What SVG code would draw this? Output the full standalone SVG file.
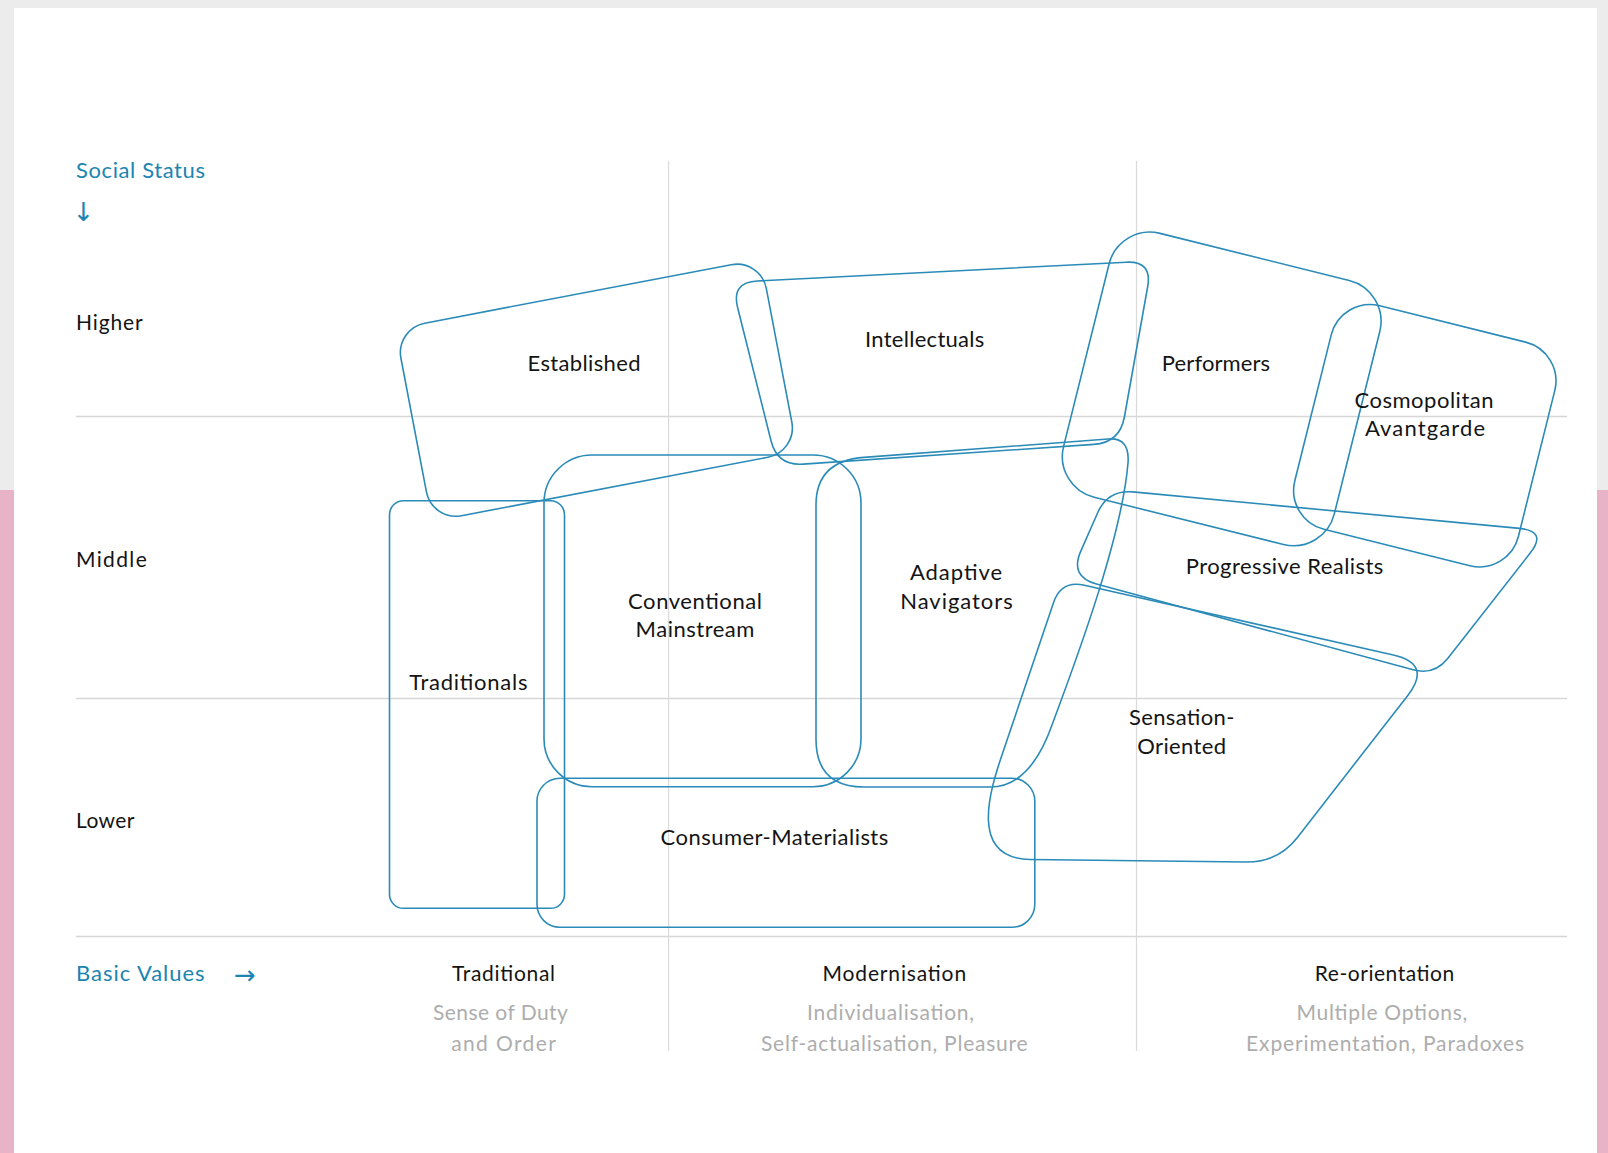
<svg xmlns="http://www.w3.org/2000/svg" width="1608" height="1153" viewBox="0 0 1608 1153">
<style>
.grid{stroke:#d7d7d7;stroke-width:1.6;fill:none}
.vgrid{stroke:#dadada;stroke-width:1.2;fill:none}
.seg{fill:none;stroke:#2b8bb8;stroke-width:1.6}
.lbl{font-family:Lato,'Liberation Sans',sans-serif;font-size:22px;fill:#141414;text-anchor:middle}
.axis{font-family:Lato,'Liberation Sans',sans-serif;font-size:21px;fill:#141414}
.axisb{font-family:Lato,'Liberation Sans',sans-serif;font-size:22px;fill:#1b84b1}
.arrow{font-family:'DejaVu Sans',sans-serif;font-size:26px;fill:#1b84b1;text-anchor:middle}
.val{font-family:Lato,'Liberation Sans',sans-serif;font-size:21px;fill:#141414;text-anchor:middle}
.sub{font-family:Lato,'Liberation Sans',sans-serif;font-size:21px;fill:#adadad;text-anchor:middle}
</style>
<rect width="1608" height="1153" fill="#ececec"/>
<rect x="0" y="490" width="14" height="663" fill="#e8b3c6"/>
<rect x="1597" y="490" width="11" height="663" fill="#e8b3c6"/>
<rect x="14" y="8" width="1583" height="1145" fill="#ffffff"/>

<g id="grid">
<line class="grid" x1="76" y1="416.5" x2="1567" y2="416.5"/>
<line class="grid" x1="76" y1="698.5" x2="1567" y2="698.5"/>
<line class="grid" x1="76" y1="936.5" x2="1567" y2="936.5"/>
<line class="vgrid" x1="668.6" y1="161" x2="668.6" y2="1051"/>
<line class="vgrid" x1="1136.5" y1="161" x2="1136.5" y2="1051"/>
</g>

<g id="axes">
<text class="axisb" x="76" y="178" textLength="129">Social Status</text>
<text class="arrow" x="83.5" y="221">↓</text>
<text class="axis" x="76" y="330" textLength="66.7">Higher</text>
<text class="axis" x="76" y="567" textLength="70.8">Middle</text>
<text class="axis" x="76" y="827.5" textLength="58.5">Lower</text>
<text class="axisb" x="76" y="981" textLength="128.5">Basic Values</text>
<text class="arrow" x="245" y="984">→</text>
<text class="val" x="503.5" y="981" textLength="103">Traditional</text>
<text class="val" x="894.3" y="981" textLength="143.6">Modernisation</text>
<text class="val" x="1384.5" y="981" textLength="139.5">Re-orientation</text>
<text class="sub" x="500.4" y="1020" textLength="135">Sense of Duty</text>
<text class="sub" x="503.5" y="1050.5" textLength="104.6">and Order</text>
<text class="sub" x="890.6" y="1020" textLength="167">Individualisation,</text>
<text class="sub" x="894.3" y="1050.5" textLength="266.6">Self-actualisation, Pleasure</text>
<text class="sub" x="1381.9" y="1020" textLength="171">Multiple Options,</text>
<text class="sub" x="1385" y="1050.5" textLength="278">Experimentation, Paradoxes</text>
</g>

<g id="connectors"></g>

<g id="established">
<rect class="seg" x="410.4" y="292.2" width="372" height="196" rx="30" transform="rotate(-10.8 596.4 390.3)"/>
<text class="lbl" x="584" y="371" textLength="113">Established</text>
</g>
<g id="intellectuals">
<path class="seg" d="M757.3,281 L1126.3,262.2 Q1152.3,260.9 1147.7,286.5 L1124.4,417 Q1119.8,442.6 1093.9,444.4 L803.2,464.1 Q777.3,465.9 771,440.7 L737.6,307.5 Q731.3,282.3 757.3,281 Z"/>
<text class="lbl" x="924.7" y="347" textLength="119.3">Intellectuals</text>
</g>
<g id="performers">
<rect class="seg" x="1082.2" y="252.9" width="279" height="272" rx="42" transform="rotate(14 1221.7 388.9)"/>
<text class="lbl" x="1216" y="371" textLength="108.3">Performers</text>
</g>
<g id="cosmopolitan-avantgarde">
<rect class="seg" x="1309.6" y="320.5" width="230.4" height="230.4" rx="40" transform="rotate(14 1424.8 435.7)"/>
<text class="lbl" x="1424" y="408" textLength="139">Cosmopolitan</text>
<text class="lbl" x="1425" y="436" textLength="120">Avantgarde</text>
</g>
<g id="progressive-realists">
<path class="seg" d="M1132.8,491.9 L1519.6,528.4 Q1547.5,531 1530.2,553.1 L1447.9,658.3 Q1434.3,675.6 1413.1,669.8 L1096.5,584 Q1069.5,576.7 1080.8,551.1 L1097.8,512.5 Q1107.9,489.6 1132.8,491.9 Z"/>
<text class="lbl" x="1284.5" y="574" textLength="197.6">Progressive Realists</text>
</g>
<g id="adaptive-navigators">
<path class="seg" d="M864,457.4 L1108,439 Q1130,437 1128,463 C1122,535 1080,650 1052,725 Q1030,787 990,787 L864,787 Q816,787 816,739 L816,505 Q816,461 864,457.4 Z"/>
<text class="lbl" x="956" y="580" textLength="92">Adaptive</text>
<text class="lbl" x="956.5" y="608.5" textLength="112.5">Navigators</text>
</g>
<g id="conventional-mainstream">
<rect class="seg" x="544" y="455" width="317" height="331.7" rx="48"/>
<text class="lbl" x="695" y="609" textLength="133.9">Conventional</text>
<text class="lbl" x="695" y="637" textLength="118.8">Mainstream</text>
</g>
<g id="traditionals">
<rect class="seg" x="389.5" y="500.7" width="175" height="407.6" rx="14"/>
<text class="lbl" x="468.3" y="690" textLength="118.3">Traditionals</text>
</g>
<g id="sensation-oriented">
<path class="seg" d="M1084.4,585.3 L1393.3,655 Q1432.3,663.8 1407.8,695.4 L1297.6,837.2 Q1278,862.5 1246,862 L1030,859.5 C968,858 990,790 1003,752 L1053.5,602.8 Q1061,580 1084.4,585.3 Z"/>
<text class="lbl" x="1181.7" y="725" textLength="105.3">Sensation-</text>
<text class="lbl" x="1181.7" y="753.5" textLength="88.7">Oriented</text>
</g>
<g id="consumer-materialists">
<rect class="seg" x="537" y="778.3" width="497.8" height="149" rx="23"/>
<text class="lbl" x="774.4" y="845" textLength="227.7">Consumer-Materialists</text>
</g>
</svg>
